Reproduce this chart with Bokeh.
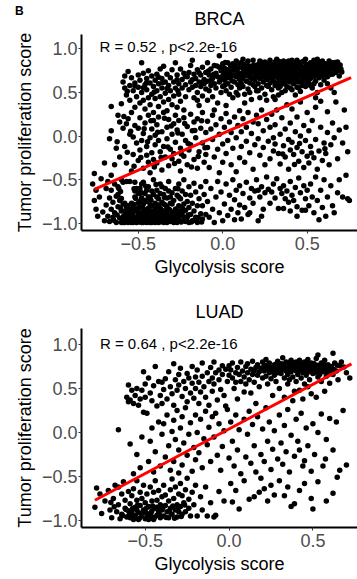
from bokeh.plotting import figure
from bokeh.layouts import column
from bokeh.models import Range1d, FixedTicker, Div
from bokeh.embed import file_html
from bokeh.resources import INLINE
from bokeh.core.properties import value

FONT = "Liberation Sans"

# ---------------- BRCA (Glycolysis score, Tumor proliferation score) ----------------
brca_upper = [
    (-0.66,0.34),
    (-0.59,0.62),(-0.58,0.55),(-0.57,0.47),(-0.56,0.74),(-0.55,0.58),(-0.55,0.41),(-0.54,0.67),(-0.53,0.52),(-0.52,0.33),(-0.52,0.61),(-0.51,0.45),(-0.6,0.37),(-0.58,0.69),(-0.5,0.56),(-0.5,0.7),
    (-0.49,0.64),(-0.48,0.84),(-0.48,0.5),(-0.47,0.72),(-0.47,0.41),(-0.46,0.59),(-0.46,0.31),(-0.45,0.66),(-0.45,0.53),(-0.44,0.44),(-0.44,0.75),(-0.43,0.61),(-0.43,0.36),(-0.42,0.69),(-0.42,0.48),(-0.41,0.57),(-0.41,0.27),(-0.4,0.64),(-0.4,0.43),(-0.49,0.38),
    (-0.39,0.71),(-0.39,0.52),(-0.38,0.6),(-0.38,0.34),(-0.37,0.77),(-0.37,0.45),(-0.36,0.66),(-0.36,0.55),(-0.35,0.39),(-0.35,0.8),(-0.34,0.62),(-0.34,0.49),(-0.33,0.71),(-0.33,0.29),(-0.32,0.58),(-0.32,0.42),(-0.31,0.67),(-0.31,0.52),(-0.3,0.76),(-0.3,0.36),
    (-0.29,0.62),(-0.29,0.46),(-0.28,0.84),(-0.28,0.55),(-0.27,0.7),(-0.27,0.33),(-0.26,0.6),(-0.26,0.48),(-0.25,0.77),(-0.25,0.4),(-0.24,0.65),(-0.24,0.55),(-0.23,0.72),(-0.23,0.3),(-0.22,0.59),(-0.22,0.45),(-0.21,0.68),(-0.2,0.53),
    (-0.19,0.81),(-0.19,0.62),(-0.18,0.87),(-0.18,0.56),(-0.17,0.71),(-0.17,0.44),(-0.16,0.66),(-0.16,0.58),(-0.15,0.76),(-0.15,0.5),(-0.14,0.62),(-0.14,0.35),(-0.13,0.7),(-0.13,0.57),(-0.12,0.79),(-0.12,0.46),(-0.11,0.65),(-0.11,0.6),(-0.1,0.73),(-0.1,0.54),(-0.2,0.73),(-0.15,0.41),
    (-0.09,0.84),(-0.09,0.63),(-0.08,0.7),(-0.08,0.52),(-0.07,0.77),(-0.07,0.58),(-0.06,0.66),(-0.06,0.45),(-0.05,0.81),(-0.05,0.6),(-0.04,0.72),(-0.04,0.55),(-0.03,0.68),(-0.03,0.38),(-0.02,0.92),(-0.02,0.62),(-0.01,0.75),(-0.01,0.5),(0.0,0.69),(0.0,0.57),(-0.09,0.41),(-0.05,0.3),(-0.02,0.79),(0.0,0.83),(-0.07,0.64),
    (0.01,0.64),(0.01,0.78),(0.02,0.71),(0.02,0.52),(0.03,0.84),(0.03,0.6),(0.04,0.74),(0.04,0.67),(0.05,0.56),(0.05,0.8),(0.06,0.7),(0.06,0.44),(0.06,0.83),(0.07,0.62),(0.07,0.76),(0.08,0.68),(0.08,0.5),(0.09,0.73),(0.09,0.59),(0.1,0.79),(0.1,0.65),(0.02,0.35),(0.04,0.48),(0.08,0.86),(0.1,0.55),(0.03,0.76),(0.05,0.69),(0.07,0.81),(0.09,0.47),(0.01,0.58),
    (0.11,0.72),(0.11,0.84),(0.12,0.66),(0.12,0.57),(0.12,0.78),(0.13,0.7),(0.13,0.81),(0.13,0.48),(0.14,0.75),(0.14,0.63),(0.15,0.86),(0.15,0.69),(0.15,0.54),(0.16,0.77),(0.16,0.72),(0.16,0.61),(0.17,0.8),(0.17,0.67),(0.17,0.42),(0.18,0.74),(0.18,0.59),(0.18,0.87),(0.19,0.7),(0.19,0.64),(0.19,0.79),(0.2,0.76),(0.2,0.52),(0.2,0.68),(0.11,0.6),(0.13,0.38),(0.14,0.83),(0.16,0.5),(0.18,0.66),(0.12,0.88),(0.19,0.57),
    (0.21,0.82),(0.21,0.71),(0.21,0.6),(0.22,0.77),(0.22,0.66),(0.22,0.86),(0.23,0.73),(0.23,0.55),(0.23,0.8),(0.24,0.69),(0.24,0.62),(0.24,0.84),(0.25,0.75),(0.25,0.71),(0.25,0.48),(0.26,0.79),(0.26,0.65),(0.26,0.58),(0.27,0.83),(0.27,0.72),(0.27,0.68),(0.28,0.77),(0.28,0.61),(0.28,0.87),(0.29,0.74),(0.29,0.66),(0.29,0.53),(0.3,0.8),(0.3,0.7),(0.3,0.63),(0.22,0.44),(0.24,0.76),(0.26,0.41),(0.28,0.7),(0.21,0.52),(0.23,0.67),(0.25,0.85),(0.27,0.57),(0.29,0.82),(0.3,0.45),
    (0.31,0.76),(0.31,0.68),(0.31,0.85),(0.32,0.72),(0.32,0.61),(0.32,0.8),(0.33,0.75),(0.33,0.66),(0.33,0.55),(0.34,0.83),(0.34,0.7),(0.34,0.63),(0.35,0.78),(0.35,0.73),(0.35,0.5),(0.36,0.86),(0.36,0.69),(0.36,0.6),(0.37,0.77),(0.37,0.71),(0.37,0.64),(0.38,0.82),(0.38,0.74),(0.38,0.57),(0.39,0.79),(0.39,0.67),(0.39,0.72),(0.4,0.84),(0.4,0.7),(0.4,0.62),(0.31,0.58),(0.32,0.88),(0.33,0.47),(0.34,0.77),(0.35,0.66),(0.36,0.75),(0.37,0.52),(0.38,0.68),(0.39,0.86),(0.4,0.76),(0.31,0.42),(0.34,0.57),(0.36,0.8),(0.38,0.63),(0.4,0.55),
    (0.41,0.79),(0.41,0.71),(0.41,0.65),(0.42,0.84),(0.42,0.75),(0.42,0.6),(0.43,0.8),(0.43,0.69),(0.43,0.73),(0.44,0.87),(0.44,0.66),(0.44,0.56),(0.45,0.78),(0.45,0.72),(0.45,0.62),(0.46,0.82),(0.46,0.7),(0.46,0.51),(0.47,0.76),(0.47,0.67),(0.47,0.85),(0.48,0.73),(0.48,0.63),(0.48,0.79),(0.49,0.69),(0.49,0.57),(0.49,0.88),(0.5,0.75),(0.5,0.66),(0.5,0.81),(0.41,0.53),(0.42,0.68),(0.43,0.47),(0.44,0.77),(0.45,0.84),(0.46,0.63),(0.47,0.58),(0.48,0.86),(0.49,0.74),(0.5,0.59),(0.41,0.87),(0.43,0.62),(0.45,0.55),(0.47,0.72),(0.49,0.64),
    (0.51,0.78),(0.51,0.7),(0.51,0.61),(0.52,0.84),(0.52,0.74),(0.52,0.66),(0.53,0.8),(0.53,0.71),(0.53,0.55),(0.54,0.87),(0.54,0.76),(0.54,0.68),(0.55,0.82),(0.55,0.73),(0.55,0.63),(0.56,0.79),(0.56,0.7),(0.56,0.5),(0.57,0.85),(0.57,0.75),(0.57,0.67),(0.58,0.81),(0.58,0.72),(0.58,0.59),(0.59,0.77),(0.59,0.86),(0.59,0.69),(0.6,0.8),(0.6,0.74),(0.6,0.64),(0.52,0.58),(0.54,0.6),(0.56,0.88),(0.58,0.77),(0.55,0.44),
    (0.61,0.83),(0.61,0.72),(0.62,0.77),(0.62,0.68),(0.63,0.86),(0.63,0.74),(0.64,0.8),(0.64,0.55),(0.65,0.71),(0.65,0.84),(0.66,0.76),(0.67,0.73),(0.68,0.85),(0.62,0.6),(0.66,0.5),(0.7,0.77),(0.69,0.69),
]

brca_upper_dense = [
    (-0.085,0.745),(-0.055,0.705),(-0.035,0.805),(-0.015,0.655),(0.005,0.735),(0.015,0.845),(0.025,0.665),(0.035,0.705),(0.045,0.815),(0.055,0.635),(0.065,0.755),(0.075,0.695),(0.085,0.775),(0.095,0.835),(0.105,0.705),
    (0.115,0.655),(0.125,0.745),(0.135,0.775),(0.145,0.695),(0.155,0.805),(0.165,0.665),(0.175,0.735),(0.185,0.815),(0.195,0.755),(0.205,0.715),(0.215,0.775),(0.225,0.695),(0.235,0.845),(0.245,0.725),(0.255,0.795),
    (0.265,0.755),(0.275,0.805),(0.285,0.665),(0.295,0.785),(0.305,0.735),(0.315,0.805),(0.325,0.695),(0.335,0.855),(0.345,0.745),(0.355,0.815),(0.365,0.725),(0.375,0.795),(0.385,0.765),(0.395,0.705),(0.405,0.785),
    (0.415,0.745),(0.425,0.815),(0.435,0.765),(0.445,0.705),(0.455,0.755),(0.465,0.795),(0.475,0.705),(0.485,0.765),(0.495,0.825),(0.505,0.735),(0.515,0.805),(0.525,0.705),(0.535,0.775),(0.545,0.825),(0.555,0.765),
    (0.565,0.815),(0.575,0.715),(0.585,0.845),(0.595,0.735),(0.605,0.785),(0.615,0.765),(0.625,0.815),(0.635,0.705),(0.645,0.775),(0.655,0.805),(0.665,0.845),(0.675,0.795),(0.685,0.755),(0.695,0.815),(0.705,0.735),
    (-0.45,0.615),(-0.38,0.675),(-0.52,0.575),(-0.33,0.545),(-0.27,0.645),(-0.22,0.685),(-0.18,0.645),(-0.14,0.725),(-0.265,0.52),(-0.405,0.505),(-0.565,0.515),(-0.47,0.555),(-0.125,0.615),(-0.355,0.615),
]

brca_middle = [
    (-0.76,-0.43),(-0.7,-0.31),(-0.66,0.06),(-0.67,-0.03),(-0.64,-0.33),(-0.66,-0.45),(-0.62,0.24),(-0.61,0.16),(-0.63,-0.14),(-0.61,-0.24),
    (-0.59,0.09),(-0.58,-0.12),(-0.57,-0.31),(-0.56,0.2),(-0.55,0.02),(-0.54,-0.4),(-0.54,0.27),(-0.53,-0.21),(-0.52,0.12),(-0.51,-0.08),(-0.5,0.09),(-0.5,-0.28),(-0.57,0.14),(-0.53,-0.01),
    (-0.49,-0.16),(-0.49,0.21),(-0.48,-0.05),(-0.47,0.03),(-0.47,-0.37),(-0.46,0.15),(-0.45,-0.22),(-0.45,-0.12),(-0.44,0.24),(-0.44,-0.3),(-0.43,-0.02),(-0.43,-0.42),(-0.42,0.08),(-0.42,-0.19),(-0.41,-0.27),(-0.41,0.18),(-0.4,-0.1),(-0.4,0.01),
    (-0.39,-0.31),(-0.39,0.13),(-0.38,-0.05),(-0.38,0.22),(-0.37,-0.18),(-0.36,0.05),(-0.36,-0.39),(-0.35,-0.12),(-0.35,0.27),(-0.34,-0.24),(-0.33,0.1),(-0.33,-0.03),(-0.32,0.19),(-0.32,-0.34),(-0.31,-0.15),(-0.3,0.02),(-0.3,-0.26),
    (-0.29,0.14),(-0.29,-0.2),(-0.28,0.24),(-0.28,-0.07),(-0.27,0.07),(-0.26,-0.29),(-0.26,0.18),(-0.25,-0.14),(-0.25,-0.4),(-0.24,0.02),(-0.23,0.21),(-0.23,-0.23),(-0.22,-0.05),(-0.21,0.11),(-0.21,-0.33),(-0.2,-0.16),
    (-0.19,0.25),(-0.19,-0.1),(-0.18,0.06),(-0.17,-0.27),(-0.17,0.16),(-0.16,-0.02),(-0.15,-0.37),(-0.15,0.2),(-0.14,-0.18),(-0.13,0.09),(-0.12,-0.08),(-0.12,0.27),(-0.11,-0.3),(-0.1,0.04),(-0.1,-0.21),
    (-0.09,0.17),(-0.09,-0.13),(-0.08,-0.36),(-0.07,0.08),(-0.06,0.24),(-0.06,-0.04),(-0.05,-0.24),(-0.04,0.13),(-0.03,-0.15),(-0.02,0.02),(-0.02,-0.42),(-0.01,0.2),(0.0,-0.09),(0.0,-0.3),
    (0.01,0.1),(0.02,0.26),(0.02,-0.2),(0.03,-0.05),(0.04,0.16),(0.05,-0.33),(0.05,0.04),(0.06,-0.14),(0.07,0.22),(0.08,-0.02),(0.08,-0.41),(0.09,0.12),(0.1,-0.25),(0.1,0.29),
    (0.11,0.05),(0.11,-0.12),(0.12,0.2),(0.13,-0.3),(0.14,0.1),(0.14,-0.06),(0.15,0.27),(0.16,-0.19),(0.17,0.03),(0.18,-0.38),(0.18,0.16),(0.19,-0.1),(0.2,0.24),
    (0.21,-0.03),(0.21,0.14),(0.22,-0.22),(0.23,0.3),(0.24,0.06),(0.24,-0.13),(0.25,-0.33),(0.26,0.19),(0.27,-0.06),(0.28,0.1),(0.28,-0.26),(0.29,0.25),(0.3,-0.02),(0.3,-0.17),
    (0.31,0.13),(0.31,-0.09),(0.32,0.3),(0.33,-0.2),(0.34,0.02),(0.34,-0.32),(0.35,0.21),(0.36,-0.11),(0.37,0.08),(0.37,-0.24),(0.38,0.36),(0.39,-0.04),(0.39,-0.38),(0.4,0.15),(0.4,-0.16),
    (0.41,-0.07),(0.41,0.31),(0.42,-0.21),(0.43,0.05),(0.44,-0.13),(0.44,0.22),(0.45,-0.29),(0.46,0.0),(0.46,0.39),(0.47,-0.18),(0.48,0.12),(0.48,-0.36),(0.49,-0.05),(0.5,0.27),(0.5,-0.23),
    (0.51,0.06),(0.51,-0.31),(0.52,-0.12),(0.53,0.18),(0.54,-0.25),(0.55,0.33),(0.55,-0.04),(0.56,-0.38),(0.57,-0.17),(0.58,0.1),(0.58,0.4),(0.59,-0.28),(0.6,-0.08),
    (0.61,-0.2),(0.62,0.04),(0.62,0.28),(0.63,-0.33),(0.64,-0.1),(0.65,0.15),(0.66,-0.02),(0.67,0.39),(0.68,-0.26),(0.69,0.07),
    (0.71,-0.08),(0.73,0.1),(0.72,0.3),(0.74,-0.18),
]

brca_middle_extra = [
    (-0.485,-0.245),(-0.465,0.085),(-0.445,-0.065),(-0.425,0.175),(-0.405,-0.355),(-0.385,0.045),(-0.365,-0.245),(-0.345,0.205),(-0.325,-0.125),(-0.305,0.115),
    (-0.285,-0.315),(-0.265,0.035),(-0.245,-0.205),(-0.225,0.145),(-0.205,-0.085),(-0.185,-0.355),(-0.165,0.065),(-0.145,-0.235),(-0.125,0.175),(-0.105,-0.135),
    (-0.565,-0.185),(-0.545,0.055),(-0.525,-0.345),(-0.585,0.225),(-0.625,-0.065),(0.355,-0.205),(0.455,-0.085),(0.525,-0.195),(0.425,-0.325),(0.605,-0.145),
]

brca_lower_left = [
    (-0.77,-0.55),(-0.76,-0.74),(-0.75,-0.84),(-0.75,-0.62),(-0.74,-0.92),(-0.73,-0.7),(-0.72,-0.49),(-0.71,-0.87),(-0.7,-0.97),
    (-0.69,-0.6),(-0.69,-0.79),(-0.68,-0.92),(-0.68,-0.52),(-0.67,-0.71),(-0.67,-0.98),(-0.66,-0.84),(-0.66,-0.62),(-0.65,-0.76),(-0.65,-0.93),(-0.64,-0.55),(-0.64,-0.88),(-0.63,-0.69),(-0.63,-0.99),(-0.62,-0.81),(-0.62,-0.58),(-0.61,-0.94),(-0.61,-0.74),(-0.6,-0.86),(-0.6,-0.5),(-0.6,-0.99),(-0.62,-0.67),
    (-0.59,-0.78),(-0.59,-0.93),(-0.59,-0.53),(-0.58,-0.86),(-0.58,-0.99),(-0.58,-0.77),(-0.57,-0.95),(-0.57,-0.52),(-0.57,-0.81),(-0.56,-0.9),(-0.56,-0.99),(-0.56,-0.8),(-0.55,-0.85),(-0.55,-0.96),(-0.55,-0.52),(-0.54,-0.92),(-0.54,-0.77),(-0.54,-0.99),(-0.53,-0.8),(-0.53,-0.88),(-0.52,-0.63),(-0.52,-0.97),(-0.52,-0.7),(-0.52,-0.84),(-0.51,-0.93),(-0.51,-0.6),(-0.51,-0.99),(-0.5,-0.77),(-0.5,-0.89),(-0.5,-0.66),(-0.58,-0.97),(-0.55,-0.91),(-0.53,-0.99),(-0.57,-0.87),(-0.53,-0.95),(-0.51,-0.83),(-0.57,-0.89),(-0.59,-0.99),(-0.52,-0.53),(-0.54,-0.84),(-0.5,-0.97),
    (-0.49,-0.95),(-0.49,-0.82),(-0.49,-0.6),(-0.48,-0.99),(-0.48,-0.88),(-0.48,-0.71),(-0.47,-0.93),(-0.47,-0.78),(-0.47,-0.53),(-0.46,-0.97),(-0.46,-0.85),(-0.46,-0.66),(-0.45,-0.91),(-0.45,-0.99),(-0.45,-0.75),(-0.44,-0.83),(-0.44,-0.95),(-0.44,-0.58),(-0.43,-0.88),(-0.43,-0.99),(-0.43,-0.7),(-0.42,-0.93),(-0.42,-0.8),(-0.42,-0.63),(-0.41,-0.97),(-0.41,-0.86),(-0.41,-0.5),(-0.4,-0.91),(-0.4,-0.77),(-0.4,-0.99),(-0.49,-0.75),(-0.48,-0.55),(-0.47,-0.87),(-0.46,-0.74),(-0.45,-0.62),(-0.44,-0.7),(-0.43,-0.79),(-0.42,-0.99),(-0.41,-0.67),(-0.4,-0.84),(-0.45,-0.84),(-0.47,-0.99),(-0.43,-0.93),(-0.48,-0.65),(-0.44,-0.89),
    (-0.39,-0.95),(-0.39,-0.81),(-0.39,-0.62),(-0.38,-0.99),(-0.38,-0.88),(-0.38,-0.72),(-0.37,-0.93),(-0.37,-0.55),(-0.37,-0.83),(-0.36,-0.98),(-0.36,-0.76),(-0.36,-0.9),(-0.35,-0.67),(-0.35,-0.86),(-0.35,-0.99),(-0.34,-0.94),(-0.34,-0.79),(-0.34,-0.6),(-0.33,-0.89),(-0.33,-0.99),(-0.33,-0.71),(-0.32,-0.84),(-0.32,-0.95),(-0.32,-0.52),(-0.31,-0.77),(-0.31,-0.91),(-0.31,-0.98),(-0.3,-0.65),(-0.3,-0.87),(-0.3,-0.96),(-0.39,-0.7),(-0.37,-0.66),(-0.35,-0.78),(-0.33,-0.81),(-0.31,-0.7),(-0.36,-0.58),(-0.34,-0.88),(-0.38,-0.79),(-0.32,-0.63),(-0.3,-0.78),
    (-0.29,-0.93),(-0.29,-0.74),(-0.29,-0.99),(-0.28,-0.84),(-0.28,-0.6),(-0.28,-0.95),(-0.27,-0.89),(-0.27,-0.68),(-0.27,-0.99),(-0.26,-0.8),(-0.26,-0.93),(-0.26,-0.55),(-0.25,-0.72),(-0.25,-0.86),(-0.25,-0.98),(-0.24,-0.63),(-0.24,-0.91),(-0.23,-0.78),(-0.23,-0.96),(-0.23,-0.5),(-0.22,-0.85),(-0.22,-0.67),(-0.21,-0.93),(-0.21,-0.75),(-0.2,-0.99),(-0.2,-0.82),(-0.2,-0.58),(-0.24,-0.82),(-0.22,-0.98),(-0.26,-0.7),
    (-0.19,-0.9),(-0.19,-0.68),(-0.18,-0.97),(-0.18,-0.77),(-0.17,-0.54),(-0.17,-0.86),(-0.16,-0.93),(-0.16,-0.64),(-0.15,-0.8),(-0.15,-0.99),(-0.14,-0.72),(-0.13,-0.89),(-0.13,-0.58),(-0.12,-0.95),(-0.12,-0.8),(-0.11,-0.67),(-0.1,-0.9),(-0.1,-0.52),
]

brca_lower_left_dense = [
    (-0.645,-0.965),(-0.625,-0.905),(-0.605,-0.825),(-0.585,-0.915),(-0.575,-0.975),(-0.565,-0.855),(-0.545,-0.945),(-0.535,-0.905),(-0.525,-0.785),(-0.515,-0.955),
    (-0.505,-0.855),(-0.495,-0.985),(-0.485,-0.905),(-0.475,-0.815),(-0.465,-0.945),(-0.455,-0.875),(-0.445,-0.985),(-0.435,-0.845),(-0.425,-0.955),(-0.415,-0.905),
    (-0.405,-0.955),(-0.395,-0.875),(-0.385,-0.935),(-0.375,-0.985),(-0.365,-0.845),(-0.355,-0.925),(-0.345,-0.975),(-0.335,-0.855),(-0.325,-0.905),(-0.315,-0.845),
    (-0.305,-0.935),(-0.295,-0.885),(-0.285,-0.975),(-0.275,-0.835),(-0.265,-0.965),(-0.255,-0.915),(-0.245,-0.985),(-0.235,-0.865),(-0.225,-0.935),(-0.215,-0.965),
    (-0.205,-0.905),(-0.185,-0.985),(-0.165,-0.965),(-0.145,-0.935),(-0.125,-0.985),
    (-0.605,-0.635),(-0.525,-0.605),(-0.515,-0.715),(-0.6,-0.715),(-0.615,-0.6),(-0.49,-0.655),(-0.395,-0.555),(-0.455,-0.575),(-0.265,-0.605),(-0.345,-0.705),(-0.425,-0.735),
]

brca_lower_right = [
    (-0.09,-0.75),(-0.08,-0.93),(-0.07,-0.6),(-0.06,-0.84),(-0.05,-0.99),(-0.04,-0.7),(-0.03,-0.52),(-0.02,-0.88),(-0.01,-0.64),(0.0,-0.97),
    (0.01,-0.78),(0.02,-0.55),(0.03,-0.91),(0.04,-0.68),(0.05,-0.84),(0.06,-0.5),(0.07,-0.96),(0.07,-0.73),(0.08,-0.62),(0.09,-0.88),(0.1,-0.79),(0.1,-0.57),
    (0.11,-0.95),(0.12,-0.66),(0.13,-0.82),(0.14,-0.53),(0.15,-0.9),(0.16,-0.71),(0.16,-0.88),(0.17,-0.6),(0.18,-0.77),(0.19,-0.63),(0.2,-0.5),
    (0.21,-0.97),(0.21,-0.62),(0.22,-0.7),(0.23,-0.58),(0.24,-0.84),(0.25,-0.65),(0.26,-0.47),(0.27,-0.61),(0.28,-0.77),(0.29,-0.64),(0.3,-0.55),(0.23,-0.92),
    (0.31,-0.71),(0.32,-0.49),(0.33,-0.83),(0.34,-0.6),(0.35,-0.66),(0.36,-0.83),(0.36,-0.57),(0.37,-0.72),(0.38,-0.63),(0.39,-0.76),(0.4,-0.86),(0.4,-0.52),
    (0.41,-0.68),(0.42,-0.74),(0.43,-0.59),(0.44,-0.81),(0.45,-0.48),(0.46,-0.65),(0.47,-0.85),(0.48,-0.57),(0.49,-0.85),(0.49,-0.72),(0.5,-0.62),(0.44,-0.92),
    (0.51,-0.8),(0.52,-0.55),(0.53,-0.7),(0.54,-0.88),(0.55,-0.47),(0.56,-0.74),(0.57,-0.96),(0.58,-0.62),(0.59,-0.82),(0.6,-0.5),
    (0.61,-0.92),(0.62,-0.7),(0.64,-0.57),(0.65,-0.8),(0.66,-0.88),(0.68,-0.65),(0.69,-0.5),
    (0.71,-0.7),(0.74,-0.72),(0.75,-0.74),(0.73,-0.45),
]

brca_fit_x = [-0.76, 0.76]
brca_fit_y = [-0.61, 0.67]
brca_label = "R = 0.52 , p<2.2e-16"

# ---------------- LUAD ----------------
luad_upper = [
    (-0.61,0.4),(-0.6,0.54),(-0.59,0.37),(-0.58,0.48),(-0.57,0.33),(-0.56,0.42),(-0.55,0.5),(-0.53,0.38),(-0.52,0.48),(-0.51,0.69),(-0.5,0.4),(-0.54,0.31),(-0.6,0.35),(-0.5,0.55),
    (-0.48,0.62),(-0.47,0.45),(-0.46,0.36),(-0.45,0.53),(-0.44,0.75),(-0.43,0.3),(-0.42,0.58),(-0.41,0.42),(-0.4,0.57),(-0.4,0.33),
    (-0.39,0.49),(-0.38,0.61),(-0.37,0.38),(-0.36,0.69),(-0.35,0.52),(-0.34,0.44),(-0.33,0.78),(-0.33,0.31),(-0.32,0.6),(-0.31,0.48),(-0.3,0.54),(-0.3,0.66),
    (-0.29,0.73),(-0.28,0.41),(-0.27,0.58),(-0.26,0.5),(-0.25,0.67),(-0.25,0.35),(-0.24,0.62),(-0.23,0.45),(-0.22,0.56),(-0.22,0.75),(-0.21,0.39),(-0.2,0.63),(-0.2,0.5),
    (-0.19,0.71),(-0.18,0.33),(-0.18,0.57),(-0.17,0.46),(-0.16,0.79),(-0.16,0.64),(-0.15,0.52),(-0.14,0.4),(-0.13,0.68),(-0.12,0.58),(-0.12,0.31),(-0.11,0.74),(-0.1,0.47),(-0.1,0.62),
    (-0.09,0.8),(-0.09,0.55),(-0.08,0.68),(-0.07,0.37),(-0.06,0.71),(-0.06,0.6),(-0.05,0.49),(-0.04,0.76),(-0.04,0.66),(-0.03,0.42),(-0.02,0.72),(-0.01,0.58),(0.0,0.76),(0.0,0.65),(-0.02,0.3),
    (0.01,0.71),(0.02,0.62),(0.02,0.79),(0.03,0.5),(0.04,0.68),(0.05,0.74),(0.05,0.38),(0.06,0.66),(0.07,0.58),(0.07,0.8),(0.08,0.7),(0.09,0.46),(0.09,0.63),(0.1,0.75),(0.1,0.55),(0.04,0.57),
    (0.11,0.68),(0.11,0.78),(0.12,0.6),(0.13,0.72),(0.13,0.45),(0.14,0.66),(0.14,0.81),(0.15,0.7),(0.15,0.57),(0.16,0.74),(0.16,0.33),(0.17,0.65),(0.17,0.77),(0.18,0.69),(0.18,0.52),(0.19,0.73),(0.2,0.62),(0.2,0.8),
    (0.21,0.7),(0.21,0.76),(0.22,0.64),(0.22,0.83),(0.23,0.72),(0.23,0.55),(0.24,0.68),(0.24,0.79),(0.25,0.61),(0.25,0.74),(0.26,0.7),(0.26,0.42),(0.27,0.77),(0.27,0.65),(0.28,0.72),(0.28,0.58),(0.29,0.81),(0.29,0.68),(0.3,0.74),(0.3,0.5),
    (0.31,0.78),(0.31,0.67),(0.32,0.72),(0.32,0.85),(0.33,0.62),(0.33,0.75),(0.34,0.7),(0.34,0.8),(0.35,0.66),(0.35,0.55),(0.36,0.74),(0.36,0.77),(0.37,0.69),(0.37,0.82),(0.38,0.63),(0.38,0.72),(0.39,0.76),(0.39,0.47),(0.4,0.7),(0.4,0.8),(0.33,0.4),(0.36,0.6),(0.38,0.36),(0.4,0.58),
    (0.41,0.75),(0.41,0.66),(0.42,0.82),(0.42,0.71),(0.43,0.62),(0.43,0.77),(0.44,0.68),(0.44,0.73),(0.45,0.8),(0.45,0.55),(0.46,0.7),(0.46,0.65),(0.47,0.76),(0.47,0.83),(0.48,0.69),(0.48,0.6),(0.49,0.74),(0.49,0.79),(0.5,0.67),(0.5,0.72),(0.42,0.48),(0.44,0.38),(0.47,0.52),(0.49,0.44),
    (0.51,0.77),(0.51,0.68),(0.52,0.73),(0.52,0.84),(0.53,0.63),(0.53,0.88),(0.54,0.71),(0.54,0.66),(0.55,0.79),(0.55,0.58),(0.56,0.74),(0.56,0.69),(0.57,0.82),(0.57,0.47),(0.58,0.72),(0.58,0.64),(0.59,0.77),(0.6,0.7),(0.6,0.56),(0.52,0.4),
    (0.61,0.75),(0.62,0.9),(0.62,0.66),(0.63,0.79),(0.64,0.7),(0.65,0.6),(0.66,0.76),(0.67,0.8),(0.7,0.68),(0.72,0.62),
]

luad_upper_dense = [
    (0.205,0.735),(0.225,0.765),(0.245,0.705),(0.265,0.745),(0.285,0.785),(0.305,0.705),(0.315,0.745),(0.325,0.775),(0.345,0.725),(0.355,0.795),
    (0.365,0.705),(0.375,0.755),(0.385,0.785),(0.395,0.715),(0.405,0.745),(0.415,0.795),(0.425,0.735),(0.435,0.705),(0.445,0.775),(0.455,0.745),
    (0.465,0.805),(0.475,0.715),(0.485,0.755),(0.495,0.705),(0.505,0.785),(0.515,0.725),(0.525,0.765),(0.535,0.695),(0.545,0.755),(0.555,0.715),
    (0.565,0.775),(0.575,0.745),(0.585,0.685),(0.605,0.745),(0.625,0.715),(0.645,0.765),(0.685,0.745),
]

luad_middle = [
    (-0.66,0.03),(-0.59,-0.13),(-0.51,0.23),(-0.55,-0.25),(-0.53,-0.4),(-0.57,-0.47),(-0.52,-0.05),
    (-0.49,0.22),(-0.48,-0.33),(-0.47,-0.1),(-0.46,0.05),(-0.45,-0.45),(-0.44,-0.22),(-0.42,0.12),(-0.41,-0.38),(-0.4,-0.02),
    (-0.39,0.1),(-0.38,-0.28),(-0.37,0.2),(-0.36,-0.15),(-0.35,-0.43),(-0.34,0.01),(-0.33,0.14),(-0.33,-0.33),(-0.32,-0.08),(-0.31,0.25),(-0.3,-0.2),(-0.3,-0.46),
    (-0.29,0.05),(-0.28,0.18),(-0.28,-0.37),(-0.27,-0.12),(-0.26,0.28),(-0.25,-0.26),(-0.24,-0.02),(-0.23,0.11),(-0.22,-0.44),(-0.21,-0.17),(-0.2,0.2),(-0.2,-0.31),
    (-0.19,0.0),(-0.18,-0.23),(-0.17,0.15),(-0.16,-0.4),(-0.15,-0.07),(-0.14,0.24),(-0.13,-0.14),(-0.12,0.06),(-0.11,-0.33),(-0.1,0.18),
    (-0.09,-0.05),(-0.08,0.22),(-0.07,-0.26),(-0.06,0.1),(-0.05,-0.43),(-0.04,-0.16),(-0.03,0.02),(-0.01,0.26),(0.0,-0.29),
    (0.01,0.12),(0.02,-0.1),(0.03,-0.38),(0.04,0.2),(0.05,-0.2),(0.06,0.03),(0.07,-0.47),(0.09,0.15),(0.1,-0.28),
    (0.11,-0.02),(0.12,0.24),(0.13,-0.35),(0.14,0.09),(0.15,-0.15),(0.16,-0.45),(0.17,0.18),(0.19,-0.25),(0.2,0.04),
    (0.21,-0.33),(0.22,0.28),(0.23,-0.1),(0.24,0.12),(0.25,-0.42),(0.26,-0.19),(0.27,0.02),(0.29,-0.3),(0.3,0.2),
    (0.31,-0.12),(0.32,-0.36),(0.33,0.08),(0.34,-0.22),(0.35,0.26),(0.36,-0.45),(0.37,-0.03),(0.39,-0.27),(0.4,0.15),
    (0.41,-0.1),(0.42,-0.2),(0.43,0.22),(0.44,-0.38),(0.45,-0.32),(0.46,0.05),(0.47,-0.15),(0.49,-0.44),(0.5,0.1),
    (0.51,-0.25),(0.53,0.0),(0.55,0.21),(0.56,-0.38),(0.575,-0.3),(0.58,-0.08),(0.6,0.16),
    (0.62,-0.2),(0.64,0.12),(0.66,-0.43),(0.7,-0.37),(0.68,0.25),
]

luad_lower_left = [
    (-0.8,-0.85),(-0.79,-0.63),(-0.77,-0.7),(-0.76,-0.92),(-0.74,-0.78),(-0.72,-0.66),(-0.71,-0.88),(-0.7,-0.97),
    (-0.69,-0.75),(-0.68,-0.6),(-0.67,-0.9),(-0.66,-0.82),(-0.65,-0.98),(-0.64,-0.7),(-0.64,-0.93),(-0.63,-0.56),(-0.62,-0.86),(-0.62,-0.77),(-0.61,-0.96),(-0.6,-0.67),(-0.6,-0.89),(-0.66,-0.62),
    (-0.59,-0.81),(-0.59,-0.97),(-0.58,-0.72),(-0.58,-0.9),(-0.57,-0.99),(-0.57,-0.64),(-0.56,-0.85),(-0.56,-0.94),(-0.55,-0.77),(-0.55,-0.55),(-0.54,-0.91),(-0.54,-0.99),(-0.53,-0.83),(-0.53,-0.68),(-0.52,-0.95),(-0.52,-0.75),(-0.51,-0.88),(-0.51,-0.6),(-0.5,-0.98),(-0.5,-0.8),(-0.55,-0.88),(-0.58,-0.95),
    (-0.49,-0.92),(-0.49,-0.7),(-0.48,-0.99),(-0.48,-0.84),(-0.47,-0.62),(-0.47,-0.95),(-0.46,-0.78),(-0.46,-0.89),(-0.45,-0.99),(-0.45,-0.68),(-0.44,-0.86),(-0.44,-0.55),(-0.43,-0.94),(-0.43,-0.77),(-0.42,-0.9),(-0.42,-0.66),(-0.41,-0.82),(-0.41,-0.97),(-0.4,-0.73),(-0.4,-0.88),(-0.46,-0.97),(-0.43,-0.85),
    (-0.39,-0.95),(-0.39,-0.6),(-0.38,-0.83),(-0.38,-0.71),(-0.37,-0.9),(-0.36,-0.78),(-0.36,-0.97),(-0.35,-0.65),(-0.35,-0.86),(-0.34,-0.53),(-0.34,-0.93),(-0.33,-0.75),(-0.32,-0.88),(-0.32,-0.62),(-0.31,-0.82),(-0.31,-0.96),(-0.3,-0.7),(-0.3,-0.9),
    (-0.29,-0.84),(-0.29,-0.58),(-0.28,-0.93),(-0.28,-0.72),(-0.27,-0.8),(-0.26,-0.65),(-0.26,-0.9),(-0.25,-0.52),(-0.24,-0.86),(-0.24,-0.76),(-0.23,-0.95),(-0.22,-0.68),(-0.21,-0.82),(-0.2,-0.6),
]

luad_lower_left_dense = [
    (-0.635,-0.945),(-0.615,-0.875),(-0.595,-0.935),(-0.575,-0.865),(-0.565,-0.955),(-0.545,-0.825),(-0.535,-0.975),(-0.515,-0.915),(-0.495,-0.865),(-0.485,-0.955),
    (-0.465,-0.915),(-0.455,-0.835),(-0.445,-0.965),(-0.425,-0.875),(-0.415,-0.935),(-0.395,-0.855),(-0.375,-0.965),(-0.355,-0.905),(-0.335,-0.835),(-0.325,-0.975),
    (-0.305,-0.865),(-0.285,-0.955),(-0.265,-0.825),(-0.685,-0.845),(-0.705,-0.795),
]

luad_lower_right = [
    (-0.19,-0.95),(-0.17,-0.73),(-0.16,-0.88),(-0.14,-0.62),(-0.13,-0.95),(-0.11,-0.8),(-0.09,-0.96),(-0.08,-0.94),(-0.06,-0.67),(-0.03,-0.78),
    (0.01,-0.58),(0.02,-0.79),(0.04,-0.66),(0.06,-0.87),(0.09,-0.55),(0.12,-0.76),(0.15,-0.73),(0.18,-0.68),(0.19,-0.52),
    (0.21,-0.64),(0.23,-0.78),(0.25,-0.6),(0.27,-0.71),(0.3,-0.55),(0.33,-0.72),(0.35,-0.62),(0.37,-0.84),(0.39,-0.81),
    (0.42,-0.66),(0.45,-0.58),(0.49,-0.75),(0.5,-0.87),(0.53,-0.56),(0.58,-0.78),(0.62,-0.69),(0.645,-0.51),
]

luad_fit_x = [-0.8, 0.73]
luad_fit_y = [-0.77, 0.78]
luad_label = "R = 0.64 , p<2.2e-16"

panel_letter = "B"

x_ticks = [-0.5, 0, 0.5]
y_ticks = [-1, -0.5, 0, 0.5, 1]
x_tick_labels = {-0.5: "\u22120.5", 0: "0.0", 0.5: "0.5"}
y_tick_labels = {-1: "\u22121.0", -0.5: "\u22120.5", 0: "0.0", 0.5: "0.5", 1: "1.0"}


def make_panel(title, groups, fit_x, fit_y, label, label_xy, xr, yr, height,
               top, bottom, title_standoff):
    pts = [pt for g in groups for pt in g]
    xs = [pt[0] for pt in pts]
    ys = [pt[1] for pt in pts]
    p = figure(width=357, height=height, output_backend="svg", toolbar_location=None,
               x_range=Range1d(*xr), y_range=Range1d(*yr),
               min_border_left=81, min_border_right=0,
               min_border_top=top, min_border_bottom=bottom, title=title)
    p.title.align = "center"
    p.title.offset = -4
    p.title.text_font = FONT
    p.title.text_font_size = "18px"
    p.title.text_font_style = "normal"
    p.title.text_color = "black"
    p.title.standoff = title_standoff
    p.outline_line_color = None
    p.xgrid.visible = False
    p.ygrid.visible = False

    p.scatter(xs, ys, size=5.5, fill_color="black", line_color=None)
    p.line(fit_x, fit_y, line_color="#FF0000", line_width=3)
    p.text(x=[label_xy[0]], y=[label_xy[1]], text=[label],
           text_font=value(FONT), text_font_size="15px", text_color="black",
           text_align="left", text_baseline="middle")

    p.xaxis.ticker = FixedTicker(ticks=x_ticks)
    p.yaxis.ticker = FixedTicker(ticks=y_ticks)
    p.xaxis.major_label_overrides = x_tick_labels
    p.yaxis.major_label_overrides = y_tick_labels
    p.xaxis.axis_label = "Glycolysis score"
    p.yaxis.axis_label = "Tumor proliferation score"
    p.xaxis.major_label_standoff = 3
    p.xaxis.axis_label_standoff = 4
    p.yaxis.major_label_standoff = 1
    p.yaxis.axis_label_standoff = 4
    for ax in (p.xaxis[0], p.yaxis[0]):
        ax.axis_line_width = 2
        ax.axis_line_color = "black"
        ax.major_tick_in = 0
        ax.major_tick_out = 3
        ax.major_tick_line_color = "#333333"
        ax.major_tick_line_width = 1
        ax.minor_tick_line_color = None
        ax.major_label_text_font = FONT
        ax.major_label_text_font_size = "18px"
        ax.major_label_text_color = "#4D4D4D"
        ax.axis_label_text_font = FONT
        ax.axis_label_text_font_size = "18px"
        ax.axis_label_text_font_style = "normal"
        ax.axis_label_text_color = "black"
    return p


p1 = make_panel("BRCA", [brca_upper, brca_upper_dense, brca_middle, brca_middle_extra,
                         brca_lower_left, brca_lower_left_dense, brca_lower_right],
                brca_fit_x, brca_fit_y, brca_label, (-0.73, 1.03),
                (-0.836, 0.798), (-1.083, 1.165), 290, 32, 60, 12)
p2 = make_panel("LUAD", [luad_upper, luad_upper_dense, luad_middle, luad_lower_left,
                         luad_lower_left_dense, luad_lower_right],
                luad_fit_x, luad_fit_y, luad_label, (-0.77, 1.01),
                (-0.88, 0.766), (-1.08, 1.182), 289, 38, 52, 14)

# panel letter in the top-left corner, floated over the page so it takes no layout space
letter = Div(text=panel_letter, width=14, height=12,
             styles={"position": "absolute", "left": "10px", "top": "0px",
                     "font-family": FONT, "font-weight": "bold", "font-size": "12px",
                     "line-height": "12px", "color": "black", "z-index": "5"})

layout = column(letter, p1, p2, spacing=0)
open("out.html", "w").write(file_html(layout, INLINE))
